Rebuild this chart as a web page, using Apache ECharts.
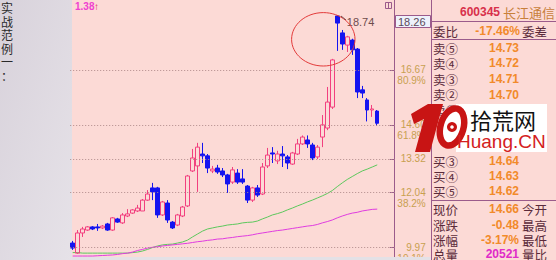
<!DOCTYPE html>
<html><head><meta charset="utf-8">
<script src="https://cdn.jsdelivr.net/npm/echarts@6/dist/echarts.min.js"></script>
<style>html,body{margin:0;padding:0;background:#fcdad6;overflow:hidden}#c{width:556px;height:260px}</style>
</head><body><div id="c"></div>
<script>
const categories = ['1','2','3','4','5','6','7','8','9','10','11','12','13','14','15','16','17','18','19','20','21','22','23','24','25','26','27','28','29','30','31','32','33','34','35','36','37','38','39','40','41','42','43','44','45','46','47','48','49','50','51','52','53','54','55','56','57','58','59','60','61','62'];
const openPrices  = [10.14,9.76,10.52,10.63,10.75,10.75,10.71,10.86,10.63,11.05,10.90,11.16,11.27,11.35,11.35,11.76,12.22,12.22,11.20,11.65,10.93,10.82,11.16,11.54,12.86,13.05,13.50,13.43,12.86,12.97,12.86,12.71,12.44,12.78,12.56,12.29,11.76,12.22,11.99,13.05,13.54,13.24,13.50,13.39,13.12,13.50,13.88,14.03,13.84,13.39,14.14,14.48,15.27,18.71,18.07,17.61,17.80,17.46,15.92,15.54,15.16,15.12];
const closePrices = [9.95,10.52,10.67,10.75,10.67,10.71,10.78,10.63,11.09,10.93,11.20,11.24,11.39,11.46,11.76,11.99,12.07,11.20,11.69,11.01,10.71,11.20,11.50,12.67,13.35,13.76,13.43,12.97,12.93,12.82,12.71,12.37,12.90,12.44,12.44,11.76,12.22,11.95,13.01,13.46,13.50,13.50,13.43,13.16,13.54,13.88,14.14,13.88,13.35,13.76,14.60,15.46,17.05,18.44,17.65,17.92,17.43,15.84,15.80,15.16,15.20,14.66];
const lowPrices   = [9.88,9.73,10.37,10.60,10.63,10.60,10.67,10.60,10.60,10.90,10.86,11.12,11.24,11.31,11.35,11.73,11.76,11.09,11.16,10.90,10.67,10.78,11.12,11.50,12.82,12.07,13.16,12.78,12.78,12.75,12.63,12.03,12.37,12.37,12.37,11.65,11.69,11.88,11.95,12.97,13.16,13.12,13.01,12.93,13.09,13.46,13.84,13.73,13.27,13.31,13.76,14.40,15.20,17.39,17.43,17.35,17.24,15.61,15.61,14.73,14.90,14.56];
const highPrices  = [10.22,10.63,10.75,10.78,10.78,10.86,10.82,10.90,11.12,11.09,11.27,11.42,11.42,11.58,11.80,12.14,12.41,12.26,11.73,11.76,10.97,11.24,11.54,12.71,13.69,13.92,13.92,13.50,13.05,13.09,12.97,12.75,13.01,12.93,12.93,12.33,12.26,12.33,13.16,13.73,13.76,13.62,13.80,13.46,13.58,14.07,14.20,14.20,13.92,13.84,14.97,16.03,17.09,18.74,18.18,17.96,17.85,17.50,16.07,15.61,15.35,15.16];
const maShort = [9.78,9.78,9.76,9.76,9.76,9.76,9.76,9.76,9.76,9.76,9.76,9.76,9.78,9.80,9.84,9.90,9.97,10.03,10.07,10.09,10.10,10.14,10.18,10.25,10.37,10.48,10.59,10.67,10.71,10.75,10.78,10.82,10.84,10.86,10.90,10.92,10.93,10.97,11.05,11.12,11.20,11.25,11.31,11.39,11.46,11.54,11.61,11.69,11.76,11.84,11.92,12.01,12.12,12.27,12.41,12.54,12.65,12.76,12.86,12.93,13.01,13.09];
const maLong = [9.65,9.65,9.65,9.65,9.65,9.66,9.67,9.68,9.69,9.71,9.74,9.76,9.80,9.86,9.90,9.95,9.98,10.00,10.03,10.05,10.07,10.09,10.11,10.13,10.16,10.19,10.21,10.24,10.26,10.29,10.30,10.33,10.35,10.38,10.40,10.42,10.45,10.49,10.52,10.55,10.58,10.61,10.63,10.66,10.69,10.72,10.75,10.78,10.80,10.84,10.90,10.95,11.01,11.09,11.16,11.22,11.27,11.30,11.35,11.38,11.41,11.42];
const levelValues = [16.67, 14.60, 13.32, 12.04, 9.97];
const levelPercents = ['80.9%', '61.8%', '', '38.2%', '19.1%'];
const peakIndex = 53;
const peakValue = 18.74;
const crossValue = '18.26';
const changeTag = '1.38';
const sideTitle = '实战范例一：';
const stockCode = '600345';
const stockName = '长江通信';
const ratioLabel = '委比', ratioValue = '-17.46%', diffLabel = '委差';
const askLabels = ['卖⑤','卖④','卖③','卖②','卖①'];
const askPrices = ['14.73','14.72','14.71','14.70',''];
const bidLabels = ['买③','买④','买⑤'];
const bidPrices = ['14.64','14.63','14.62'];
const quoteLabels = ['现价','涨跌','涨幅','总量'];
const quoteValues = ['14.66','-0.48','-3.17%','20521'];
const quoteRight = ['今开','最高','最低','量比'];

// layout (positions only)
const askRowsY = [48, 63, 79, 94.5, 110];
const bidRowsY = [161, 176, 191];
const quoteRowsY = [209, 225, 240, 254];

const CJK = '"Noto Sans CJK SC"';
const SANS = '"Liberation Sans", Arial';
const PURPLE = '#9b5b8b';
const ORANGE = '#f28a2a';
const LABEL = '#5a2a3a';

const candleData = categories.map((c, i) => [openPrices[i], closePrices[i], lowPrices[i], highPrices[i]]);

const chart = echarts.init(document.getElementById('c'), null, {renderer: 'svg'});

function cjkText(x, y, t, z) {
  return {type:'text', z: z || 11, x, y, style:{text:t, font:'12.5px '+CJK, fill:LABEL, verticalAlign:'middle', lineHeight:12}};
}
function numText(x, y, t, fill) {
  return {type:'text', z:11, x, y, style:{text:t, font:'bold 12px '+SANS, fill: fill || ORANGE, align:'right', verticalAlign:'middle', lineHeight:12}};
}

const g = [];
// left strip
g.push({type:'rect', z:0, shape:{x:0,y:0,width:72,height:260},
  style:{fill:new echarts.graphic.LinearGradient(0,0,1,1,[{offset:0,color:'#d8d2db'},{offset:1,color:'#e6e2e8'}])}});
g.push({type:'text', z:1, x:1, y:1, style:{text: sideTitle.split('').join('\n'), font:'12px '+CJK, fill:'#2a2a2a', lineHeight:13.5}});
// bottom strip
g.push({type:'rect', z:90, shape:{x:72,y:257,width:359,height:3}, style:{fill:'#e4e1e6'}});
// top-left tag
g.push({type:'text', z:5, x:75, y:6.5, style:{text: changeTag, font:'bold 10px '+SANS, fill:'#f040d0', verticalAlign:'middle'}});
g.push({type:'text', z:5, x:94, y:6.5, style:{text:'↑', font:'bold 10px '+SANS, fill:'#e0206a', verticalAlign:'middle'}});
// annotation ellipse
g.push({type:'ellipse', z:20, shape:{cx:323.3, cy:39.3, rx:31.7, ry:26.7}, style:{fill:'none', stroke:'#e33a3a', lineWidth:1}});
g.push({type:'line', z:20, shape:{x1:341,y1:16,x2:346,y2:20}, style:{stroke:'#6e4c4c', lineWidth:1}});
// small icon on top
g.push({type:'rect', z:5, shape:{x:385.5,y:2.5,width:6,height:6}, style:{fill:'none', stroke:PURPLE, lineWidth:1}});
g.push({type:'line', z:5, shape:{x1:388.5,y1:2.5,x2:388.5,y2:8.5}, style:{stroke:PURPLE, lineWidth:1}});
// crosshair value box
g.push({type:'rect', z:30, shape:{x:395.5,y:15.5,width:35,height:12}, style:{fill:'#eef2fb', stroke:PURPLE, lineWidth:1}});
g.push({type:'text', z:31, x:398, y:21.8, style:{text: crossValue, font:'11px '+SANS, fill:'#5a4a5a', verticalAlign:'middle'}});
// right panel frame
g.push({type:'line', z:10, shape:{x1:431.5,y1:0,x2:431.5,y2:260}, style:{stroke:PURPLE, lineWidth:1}});
[21.5, 39.5, 200.5].forEach(y => g.push({type:'line', z:10, shape:{x1:431,y1:y,x2:556,y2:y}, style:{stroke:PURPLE, lineWidth:1}}));
// right panel texts
g.push({type:'text', z:11, x:460, y:12, style:{text: stockCode, font:'bold 12px '+SANS, fill:'#d8304a', verticalAlign:'middle'}});
g.push({type:'text', z:11, x:503, y:12, style:{text: stockName, font:'13px '+CJK, fill:'#c8803a', verticalAlign:'middle'}});
g.push(cjkText(433, 31, ratioLabel));
g.push({type:'text', z:11, x:520, y:31, style:{text: ratioValue, font:'bold 12px '+SANS, fill:ORANGE, align:'right', verticalAlign:'middle', lineHeight:12}});
g.push(cjkText(522, 31, diffLabel));
askLabels.forEach((t, i) => {
  g.push(cjkText(433, askRowsY[i], t));
  if (askPrices[i]) g.push(numText(519, askRowsY[i], askPrices[i]));
});
bidLabels.forEach((t, i) => {
  g.push(cjkText(433, bidRowsY[i], t));
  g.push(numText(519, bidRowsY[i], bidPrices[i]));
});
quoteLabels.forEach((t, i) => {
  g.push(cjkText(433, quoteRowsY[i], t));
  g.push(numText(519, quoteRowsY[i], quoteValues[i], i === 3 ? '#e02cc8' : ORANGE));
  g.push(cjkText(522, quoteRowsY[i], quoteRight[i]));
});
// watermark
g.push({type:'rect', z:100, shape:{x:456,y:104,width:91,height:48}, style:{fill:'#ffffff'}});
g.push({type:'polygon', z:101, shape:{points:[[428,104],[443,104],[430,152],[415,152],[424,119],[414,124],[411,114]]}, style:{fill:'#c81414'}});
g.push({type:'ellipse', z:101, x:452, y:127, rotation:-0.28, shape:{cx:0,cy:0,rx:11.5,ry:19}, style:{fill:'#ffffff', stroke:'#c81414', lineWidth:6.5}});
g.push({type:'circle', z:102, shape:{cx:452,cy:127,r:5}, style:{fill:'#c81414'}});
g.push({type:'circle', z:103, shape:{cx:452,cy:127,r:1.8}, style:{fill:'#ffffff'}});
g.push({type:'text', z:104, x:470, y:118.5, style:{text:'拾荒网', font:'22px '+CJK, fill:'#111111', verticalAlign:'middle', lineHeight:22}});
g.push({type:'text', z:104, x:457, y:141.5, style:{text:'Huang.CN', font:'19px '+SANS, fill:'#d42020', verticalAlign:'middle', lineHeight:18}});

const option = {
  animation: false,
  backgroundColor: '#fcdad6',
  grid: {left: 70.2, right: 161.3, top: 0, bottom: 0, containLabel: false, outerBoundsMode: 'none'},
  xAxis: {type: 'category', data: categories, boundaryGap: true, max: 64, show: false},
  yAxis: {
    type: 'value', position: 'right', min: 9.5, max: 19.3115, scale: true,
    splitLine: {show: false},
    axisLine: {show: true, lineStyle: {color: PURPLE, width: 1}},
    axisTick: {show: true, inside: true, length: 5, customValues: levelValues, lineStyle: {color: PURPLE}},
    axisLabel: {
      show: true, customValues: levelValues, margin: 31, align: 'right',
      color: '#c8a050', fontSize: 10, fontFamily: SANS,
      formatter: function (v) {
        const i = levelValues.findIndex(x => Math.abs(x - v) < 1e-6);
        if (i < 0) return '';
        const txt = levelValues[i].toFixed(2);
        const p = levelPercents[i];
        return p ? '{e| }\n{v|' + txt + '}\n{p|' + p + '}' : '{v|' + txt + '}';
      },
      rich: {
        e: {lineHeight: 11, fontSize: 10},
        v: {lineHeight: 11, fontSize: 10, color: '#c8a050', fontFamily: SANS},
        p: {lineHeight: 11, fontSize: 10, color: '#c8a050', fontFamily: SANS}
      }
    }
  },
  series: [
    {type: 'line', data: maShort, symbol: 'none', z: 1, lineStyle: {color: '#5cc85c', width: 1}},
    {type: 'line', data: maLong, symbol: 'none', z: 1, lineStyle: {color: '#e03ce0', width: 1}},
    {
      type: 'candlestick', data: candleData, barWidth: 4, z: 3,
      itemStyle: {color: 'transparent', color0: '#1414f0', borderColor: '#f2407f', borderColor0: '#1414f0', borderWidth: 1},
      markLine: {
        silent: true, symbol: ['none', 'none'], label: {show: false},
        lineStyle: {type: [1, 2], color: '#b08c8c', width: 1},
        data: levelValues.map(v => ({yAxis: v}))
      },
      markPoint: {
        symbol: 'circle', symbolSize: 1, itemStyle: {color: 'transparent'},
        label: {show: true, position: 'right', distance: 9, offset: [0, 7], formatter: String(peakValue), color: '#6e4c4c', fontSize: 11, fontFamily: SANS},
        data: [{coord: [categories[peakIndex], peakValue]}]
      }
    }
  ],
  graphic: g
};
chart.setOption(option);
</script></body></html>
